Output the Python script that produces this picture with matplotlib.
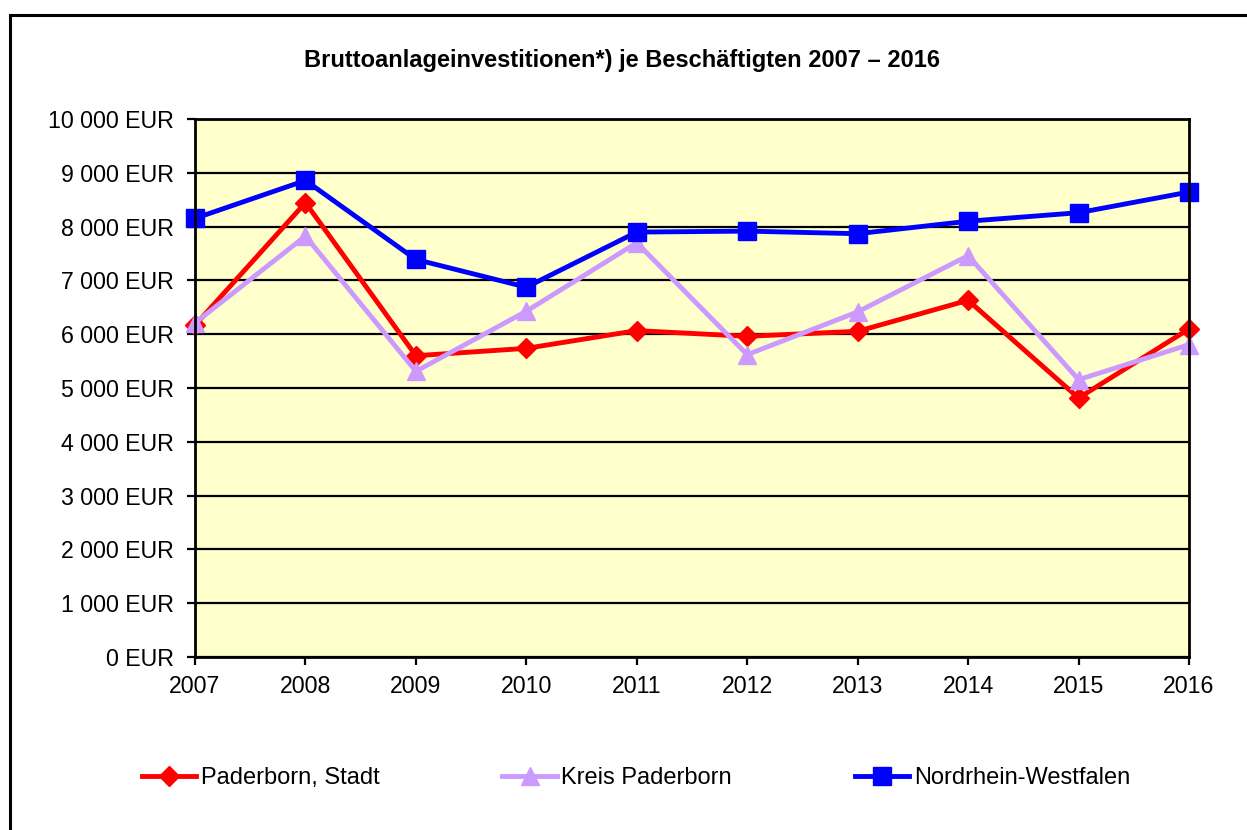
import matplotlib
matplotlib.use("Agg")
import matplotlib.pyplot as plt
from matplotlib.ticker import FuncFormatter, MultipleLocator
from matplotlib.patches import Rectangle

plt.rcParams['font.family'] = ['Liberation Sans', 'DejaVu Sans']

years = [2007, 2008, 2009, 2010, 2011, 2012, 2013, 2014, 2015, 2016]
paderborn_stadt = [6166, 8445, 5600, 5737, 6067, 5961, 6054, 6630, 4814, 6098]
kreis_paderborn = [6210, 7823, 5310, 6427, 7700, 5620, 6415, 7460, 5155, 5806]
nrw = [8153, 8857, 7389, 6874, 7898, 7916, 7868, 8100, 8258, 8643]

title = "Bruttoanlageinvestitionen*) je Beschäftigten 2007 – 2016"
labels = ["Paderborn, Stadt", "Kreis Paderborn", "Nordrhein-Westfalen"]

fig = plt.figure(figsize=(12.47, 8.30), dpi=100)
ax = fig.add_axes([195/1247, 1-657/830, (1189-195)/1247, (657-119)/830])
ax.set_facecolor('#FFFFCC')

ax.plot(years, paderborn_stadt, color='#FF0000', lw=3.5, marker='D', ms=10,
        label=labels[0], zorder=3, clip_on=False)
ax.plot(years, kreis_paderborn, color='#CC99FF', lw=3.5, marker='^', ms=13,
        label=labels[1], zorder=4, clip_on=False)
ax.plot(years, nrw, color='#0000FF', lw=3.5, marker='s', ms=13,
        label=labels[2], zorder=5, clip_on=False)

ax.set_xlim(years[0], years[-1])
ax.set_ylim(0, 10000)
ax.set_xticks(years)
ax.yaxis.set_major_locator(MultipleLocator(1000))
ax.yaxis.set_major_formatter(FuncFormatter(
    lambda v, p: f"{int(v):,} EUR".replace(",", " ")))
ax.grid(axis='y', color='black', lw=1.6, zorder=1)
ax.set_axisbelow(True)
for s in ax.spines.values():
    s.set_linewidth(2.0)
    s.set_color('black')
    s.set_zorder(6)
ax.tick_params(axis='both', direction='out', length=6, width=1.6,
               labelsize=16.7, colors='black')
ax.tick_params(axis='y', pad=9)
ax.tick_params(axis='x', pad=7)

fig.text(0.499, 1-60/830, title, ha='center', va='center',
         fontsize=17, fontweight='bold')

leg = fig.legend(loc='center', bbox_to_anchor=(0.51, 1-778/830), ncol=3,
                 frameon=False, fontsize=17, handlelength=2.3,
                 handletextpad=0.2, columnspacing=5.2)

fig.patches.append(Rectangle((10/1247, -0.1), 1.2, 1-15/830+0.1,
                             transform=fig.transFigure, fill=False,
                             edgecolor='black', lw=2.2, zorder=0))

fig.savefig("out.png", dpi=100)
